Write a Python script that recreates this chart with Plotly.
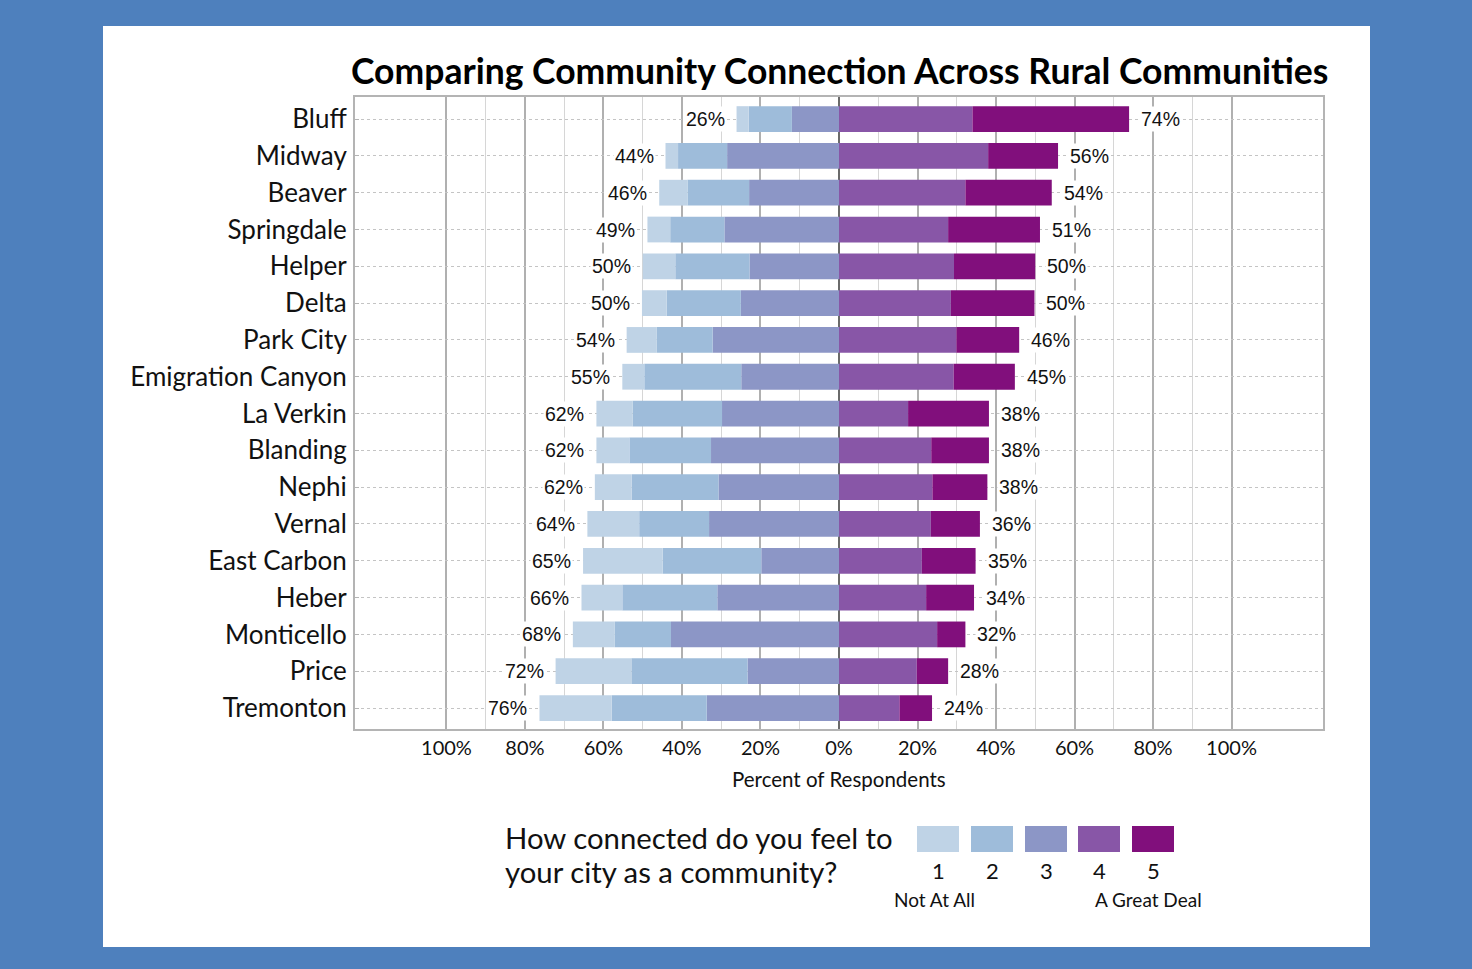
import plotly.graph_objects as go

# ---------------- data ----------------
communities = ["Bluff", "Midway", "Beaver", "Springdale", "Helper", "Delta", "Park City",
               "Emigration Canyon", "La Verkin", "Blanding", "Nephi", "Vernal", "East Carbon",
               "Heber", "Monticello", "Price", "Tremonton"]
# percent of respondents answering 1..5
resp1 = [3.1, 3.2, 7.2, 5.8, 8.3, 6.3, 7.7, 5.6, 9.2, 8.4, 9.4, 13.2, 20.3, 10.4, 10.7, 19.3, 18.4]
resp2 = [11.0, 12.5, 15.7, 13.8, 18.9, 18.9, 14.2, 24.7, 22.8, 20.8, 22.1, 17.8, 25.1, 24.2, 14.3, 29.6, 24.2]
resp3 = [12.0, 28.5, 22.9, 29.2, 22.8, 25.0, 32.2, 24.9, 29.8, 32.6, 30.7, 33.1, 19.8, 31.0, 42.8, 23.3, 33.7]
resp4 = [34.0, 38.0, 32.2, 27.8, 29.3, 28.5, 29.9, 29.2, 17.6, 23.5, 23.8, 23.4, 21.1, 22.2, 25.0, 19.8, 15.4]
resp5 = [39.9, 17.8, 22.0, 23.4, 20.7, 21.3, 16.0, 15.6, 20.6, 14.7, 14.0, 12.5, 13.7, 12.2, 7.2, 8.0, 8.3]
neg_labels = [26, 44, 46, 49, 50, 50, 54, 55, 62, 62, 62, 64, 65, 66, 68, 72, 76]
pos_labels = [74, 56, 54, 51, 50, 50, 46, 45, 38, 38, 38, 36, 35, 34, 32, 28, 24]
tick_vals = [-1.0, -0.8, -0.6, -0.4, -0.2, 0.0, 0.2, 0.4, 0.6, 0.8, 1.0]
tick_text = ["100%", "80%", "60%", "40%", "20%", "0%", "20%", "40%", "60%", "80%", "100%"]
minor_vals = [-0.9, -0.7, -0.5, -0.3, -0.1, 0.1, 0.3, 0.5, 0.7, 0.9]
levels = ["1", "2", "3", "4", "5"]
colors = ["#bfd3e6", "#9ebcda", "#8c96c6", "#8856a7", "#810f7c"]

# ---------------- layout geometry (pixels) ----------------
W, H = 1472, 969
PL, PR, PT, PB = 355, 1323, 97, 729


def px(x):
    return (x - PL) / (PR - PL)


def py(y):
    return (PB - y) / (PB - PT)


LABEL_FONT = "Lato, 'Open Sans', sans-serif"
NUM_FONT = "'Liberation Sans', Arial, sans-serif"

fig = go.Figure()

series = {"1": resp1, "2": resp2, "3": resp3, "4": resp4, "5": resp5}
# negatives first (nearest zero first), then positives
for lvl, sign in [("3", -1), ("2", -1), ("1", -1), ("4", 1), ("5", 1)]:
    i = levels.index(lvl)
    fig.add_trace(go.Bar(
        y=communities,
        x=[sign * v / 100 for v in series[lvl]],
        orientation="h",
        name=lvl,
        marker=dict(color=colors[i], line=dict(width=0)),
        showlegend=False,
        hoverinfo="skip",
    ))

annotations = []
for c, a, b, d, e, f, nl, pl in zip(communities, resp1, resp2, resp3, resp4, resp5, neg_labels, pos_labels):
    left = -(a + b + d) / 100
    right = (e + f) / 100
    annotations.append(dict(x=left, y=c, xref="x", yref="y", text=f"{nl}%", showarrow=False,
                            xanchor="right", xshift=-10, bgcolor="white", borderpad=1,
                            font=dict(family=NUM_FONT, size=19.5, color="#111")))
    annotations.append(dict(x=right, y=c, xref="x", yref="y", text=f"{pl}%", showarrow=False,
                            xanchor="left", xshift=10, bgcolor="white", borderpad=1,
                            font=dict(family=NUM_FONT, size=19.5, color="#111")))

# title
annotations.append(dict(x=0.5, y=py(70), xref="paper", yref="paper", showarrow=False,
                        text="<b>Comparing Community Connection Across Rural Communities</b>",
                        xanchor="center", yanchor="middle",
                        font=dict(family=LABEL_FONT, size=35.5, color="black")))
# axis title
annotations.append(dict(x=0.5, y=py(779), xref="paper", yref="paper", showarrow=False,
                        text="Percent of Respondents", xanchor="center", yanchor="middle",
                        font=dict(family=LABEL_FONT, size=20.5, color="#111")))
# legend question (two lines)
for txt, yy in [("How connected do you feel to", 837), ("your city as a community?", 871)]:
    annotations.append(dict(x=px(503), y=py(yy), xref="paper", yref="paper", showarrow=False,
                            text=txt, xanchor="left", yanchor="middle", align="left",
                            font=dict(family=LABEL_FONT, size=29.3, color="#111")))

shapes = [
    dict(type="rect", xref="paper", yref="paper", x0=px(103), x1=px(1370), y0=py(947), y1=py(26),
         fillcolor="white", line=dict(width=0), layer="below"),
]

sw_left = [917, 971, 1025, 1078, 1132]
for i, lvl in enumerate(levels):
    x0 = sw_left[i]
    shapes.append(dict(type="rect", xref="paper", yref="paper", x0=px(x0), x1=px(x0 + 42),
                       y0=py(852), y1=py(826), fillcolor=colors[i], line=dict(width=0)))
    annotations.append(dict(x=px(x0 + 21), y=py(870), xref="paper", yref="paper", showarrow=False,
                            text=lvl, xanchor="center", yanchor="middle",
                            font=dict(family=LABEL_FONT, size=22, color="#111")))
annotations.append(dict(x=px(934), y=py(900), xref="paper", yref="paper", showarrow=False,
                        text="Not At All", xanchor="center", yanchor="middle",
                        font=dict(family=LABEL_FONT, size=19, color="#111")))
annotations.append(dict(x=px(1148), y=py(900), xref="paper", yref="paper", showarrow=False,
                        text="A Great Deal", xanchor="center", yanchor="middle",
                        font=dict(family=LABEL_FONT, size=19, color="#111")))

fig.update_layout(
    width=W, height=H,
    margin=dict(l=PL, r=W - PR, t=PT, b=H - PB, pad=0),
    paper_bgcolor="#4e80bd",
    plot_bgcolor="white",
    barmode="relative",
    bargap=0.3,
    annotations=annotations,
    shapes=shapes,
    font=dict(family=LABEL_FONT, color="#111"),
)

fig.update_xaxes(
    range=[-1.233, 1.233],
    tickmode="array", tickvals=tick_vals, ticktext=tick_text,
    tickfont=dict(family=LABEL_FONT, size=20, color="#111"),
    showgrid=True, gridcolor="#b0b0b0", gridwidth=2,
    minor=dict(tickmode="array", tickvals=minor_vals, showgrid=True, gridcolor="#d6d6d6", gridwidth=1, ticks=""),
    zeroline=True, zerolinecolor="#6a6a6a", zerolinewidth=2,
    showline=True, mirror=True, linecolor="#b4b4b4", linewidth=2,
    ticks="", fixedrange=True,
)
fig.update_yaxes(
    type="category", categoryorder="array", categoryarray=communities,
    range=[16.57, -0.6],
    tickfont=dict(family=LABEL_FONT, size=26, color="#111"),
    showgrid=True, gridcolor="#c4c4c4", gridwidth=1, griddash="3px,3px",
    showline=True, mirror=True, linecolor="#b4b4b4", linewidth=2,
    ticks="inside", ticklen=4, tickcolor="#b4b4b4",
    ticklabelstandoff=1, fixedrange=True,
)

fig.write_html("out.html", config={"displayModeBar": False},
               post_script="document.body.style.margin='0px';")
